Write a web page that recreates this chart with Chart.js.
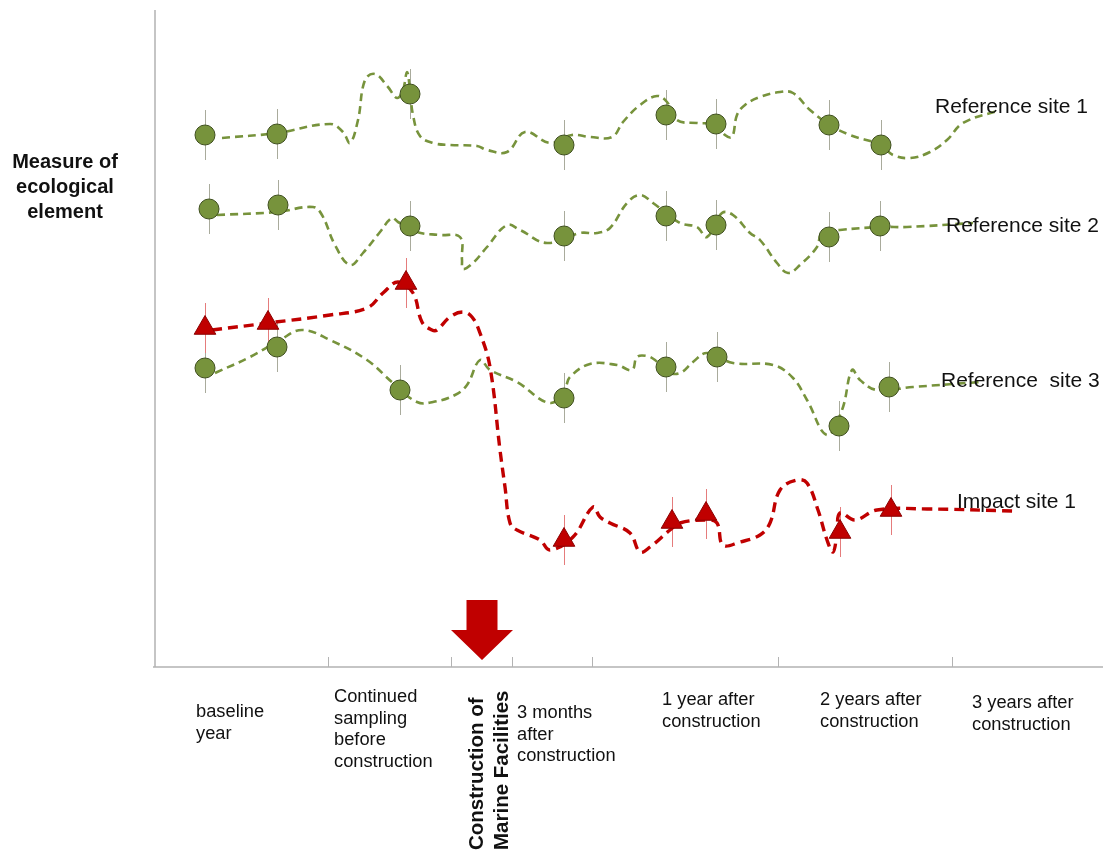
<!DOCTYPE html>
<html>
<head>
<meta charset="utf-8">
<script src="https://cdn.jsdelivr.net/npm/chart.js@4"></script>
<style>
  html, body { margin: 0; background: #fff; }
  canvas { display: block; }
</style>
</head>
<body>
<canvas id="chart" width="1103" height="853"></canvas>
<script>
// sampling occasions (time units along the axis) and measured values
const ref1X = [50, 122, 255, 409, 511, 561, 674, 726];
const ref1Y = [532, 533, 573, 522, 552, 543, 542, 522];
const ref2X = [54, 123, 255, 409, 511, 561, 674, 725];
const ref2Y = [458, 462, 441, 431, 451, 442, 430, 441];
const ref3X = [50, 122, 245, 409, 511, 562, 684, 734];
const ref3Y = [299, 320, 277, 269, 300, 310, 241, 280];
const impX  = [50, 113, 251, 409, 517, 551, 685, 736];
const impY  = [339, 344, 384, 127, 145, 153, 135, 157];
const errSize = [25, 25, 25, 25, 25, 25, 25, 25];

// hand-drawn trend lines
const ref1Path = [[67,529],[122,534],[175,543],[188,535],[195,524],[203,547],[210,587],[220,593],[233,580],[242,569],
  [248,577],[252,595],[255,577],[258,552],[265,531],[278,524],[295,522],[322,521],[332,517],[352,515],[370,535],
  [395,524],[417,532],[435,530],[457,530],[468,545],[485,562],[502,571],[512,565],[522,547],[542,544],[562,542],
  [570,532],[577,530],[582,552],[590,562],[605,570],[625,575],[638,574],[655,557],[675,542],[695,532],[726,522],
  [738,512],[755,509],[775,515],[792,527],[808,544],[845,557]];
const ref2Path = [[62,452],[122,455],[158,460],[167,452],[180,422],[195,402],[208,414],[225,435],[237,449],[243,445],
  [262,435],[285,432],[305,430],[307,407],[308,398],[318,404],[332,420],[352,442],[365,437],[392,424],[425,434],
  [442,434],[455,439],[472,464],[485,472],[498,464],[525,444],[542,440],[552,430],[567,454],[578,452],[595,434],
  [605,427],[622,404],[633,394],[645,402],[662,420],[667,434],[685,437],[726,440],[752,440],[818,444]];
const ref3Path = [[60,294],[95,310],[125,327],[147,337],[175,327],[212,307],[238,284],[262,265],[278,265],[300,272],
  [312,282],[325,307],[335,297],[362,285],[395,264],[410,279],[415,290],[435,303],[462,302],[477,297],[482,310],
  [492,311],[500,307],[513,295],[525,294],[538,305],[552,314],[578,304],[618,302],[638,289],[652,267],[672,232],
  [687,257],[697,297],[705,287],[722,277],[758,280],[825,285]];
const impPath = [[57,337],[113,344],[175,352],[212,359],[228,374],[243,385],[258,374],[267,345],[277,337],[282,337],
  [295,350],[308,355],[317,350],[325,334],[335,300],[345,217],[350,180],[355,144],[362,137],[385,127],[395,117],
  [418,130],[438,160],[445,150],[455,144],[475,134],[485,115],[495,120],[515,137],[525,144],[552,147],[562,144],
  [568,122],[585,125],[605,132],[615,144],[625,177],[642,187],[652,184],[663,157],[672,127],[678,115],[682,134],
  [685,154],[700,147],[722,157],[772,158],[858,156]];

const seriesNames = ['Reference site 1', 'Reference site 2', 'Reference  site 3', 'Impact site 1'];
const categories = [
  ['baseline', 'year'],
  ['Continued', 'sampling', 'before', 'construction'],
  ['3 months', 'after', 'construction'],
  ['1 year after', 'construction'],
  ['2 years after', 'construction'],
  ['3 years after', 'construction']
];
const eventLabel = ['Construction of', 'Marine Facilities'];
const tickX = [173, 296, 357, 437, 623, 797];
const constructionX = 327;

const GREEN = '#77933c', RED = '#c00000';
const FONT = '"Liberation Sans", Arial, sans-serif';

const pts = (xs, ys) => xs.map((v, i) => ({ x: v, y: ys[i] }));
const path = p => p.map(q => ({ x: q[0], y: q[1] }));

function markerSet(label, xs, ys, style, fill, border, r) {
  return { label, data: pts(xs, ys), showLine: false, pointStyle: style, pointRadius: r,
    pointBackgroundColor: fill, pointBorderColor: border, pointBorderWidth: 1, order: 0, clip: false };
}
function pathSet(p, color, width, dash) {
  return { data: path(p), borderColor: color, borderWidth: width, borderDash: dash,
    pointRadius: 0, tension: 0.4, fill: false, order: 1, clip: false };
}

const errSeries = [
  { xs: ref1X, ys: ref1Y, color: '#a9ab9c' },
  { xs: ref2X, ys: ref2Y, color: '#a9ab9c' },
  { xs: ref3X, ys: ref3Y, color: '#a9ab9c' },
  { xs: impX,  ys: impY,  color: '#e57c7c' }
];

const overlay = {
  id: 'overlay',
  beforeDatasetsDraw(chart) {
    const { ctx, scales: { x, y }, chartArea: a } = chart;
    ctx.save();
    // axes
    ctx.strokeStyle = '#b3b3b3';
    ctx.lineWidth = 1.5;
    ctx.beginPath();
    ctx.moveTo(a.left, a.top); ctx.lineTo(a.left, a.bottom);
    ctx.moveTo(a.left - 2, a.bottom); ctx.lineTo(a.right, a.bottom);
    ctx.stroke();
    ctx.lineWidth = 1;
    tickX.forEach(t => {
      const px = Math.round(x.getPixelForValue(t)) + 0.5;
      ctx.beginPath(); ctx.moveTo(px, a.bottom); ctx.lineTo(px, a.bottom - 10); ctx.stroke();
    });
    // error bars
    errSeries.forEach(s => {
      ctx.strokeStyle = s.color;
      s.xs.forEach((v, i) => {
        const px = Math.round(x.getPixelForValue(v)) + 0.5;
        ctx.beginPath();
        ctx.moveTo(px, y.getPixelForValue(s.ys[i] + errSize[i]));
        ctx.lineTo(px, y.getPixelForValue(s.ys[i] - errSize[i]));
        ctx.stroke();
      });
    });
    ctx.restore();
  },
  afterDatasetsDraw(chart) {
    const { ctx, scales: { x, y }, chartArea: a } = chart;
    ctx.save();
    // construction arrow
    const cx = x.getPixelForValue(constructionX);
    ctx.fillStyle = RED;
    ctx.beginPath();
    ctx.moveTo(cx - 15.5, a.bottom - 67);
    ctx.lineTo(cx + 15.5, a.bottom - 67);
    ctx.lineTo(cx + 15.5, a.bottom - 37);
    ctx.lineTo(cx + 31, a.bottom - 37);
    ctx.lineTo(cx, a.bottom - 7);
    ctx.lineTo(cx - 31, a.bottom - 37);
    ctx.lineTo(cx - 15.5, a.bottom - 37);
    ctx.closePath();
    ctx.fill();

    // series names at the right end of each line
    ctx.fillStyle = '#111';
    ctx.font = '21px ' + FONT;
    ctx.textBaseline = 'middle';
    ctx.textAlign = 'left';
    const nameAt = [[780, 560], [791, 441], [786, 286], [802, 165]];
    seriesNames.forEach((n, i) => ctx.fillText(n, x.getPixelForValue(nameAt[i][0]), y.getPixelForValue(nameAt[i][1])));

    // category labels under the axis
    ctx.font = '18.3px ' + FONT;
    const catLeft = [41, 179, 362, 507, 665, 817];
    const catDrop = [45, 30, 46, 33, 33, 36];
    categories.forEach((lines, i) => {
      lines.forEach((t, j) => ctx.fillText(t, x.getPixelForValue(catLeft[i]), a.bottom + catDrop[i] + j * 21.5));
    });

    // rotated event label
    ctx.font = 'bold 20.5px ' + FONT;
    ctx.textBaseline = 'alphabetic';
    eventLabel.forEach((t, j) => {
      ctx.save();
      ctx.translate(cx + 1 + j * 25, 850);
      ctx.rotate(-Math.PI / 2);
      ctx.fillText(t, 0, 0);
      ctx.restore();
    });

    // y axis title
    ctx.font = 'bold 20px ' + FONT;
    ctx.textAlign = 'center';
    ctx.textBaseline = 'middle';
    ['Measure of', 'ecological', 'element'].forEach((t, j) => ctx.fillText(t, a.left - 90, 162 + j * 25));
    ctx.restore();
  }
};

new Chart(document.getElementById('chart'), {
  type: 'line',
  data: {
    datasets: [
      markerSet(seriesNames[0], ref1X, ref1Y, 'circle', GREEN, '#3f4f1f', 10),
      markerSet(seriesNames[1], ref2X, ref2Y, 'circle', GREEN, '#3f4f1f', 10),
      markerSet(seriesNames[2], ref3X, ref3Y, 'circle', GREEN, '#3f4f1f', 10),
      markerSet(seriesNames[3], impX, impY, 'triangle', RED, '#8a0000', 12.5),
      pathSet(ref1Path, GREEN, 2.6, [8, 5]),
      pathSet(ref2Path, GREEN, 2.6, [8, 5]),
      pathSet(ref3Path, GREEN, 2.6, [8, 5]),
      pathSet(impPath, RED, 3.4, [10, 6])
    ]
  },
  options: {
    responsive: false,
    animation: false,
    devicePixelRatio: 1,
    layout: { autoPadding: false, padding: { left: 155, top: 10, right: 0, bottom: 186 } },
    scales: {
      x: { type: 'linear', min: 0, max: 948, display: false },
      y: { type: 'linear', min: 0, max: 657, display: false }
    },
    plugins: { legend: { display: false }, tooltip: { enabled: false } }
  },
  plugins: [overlay]
});
</script>
</body>
</html>
